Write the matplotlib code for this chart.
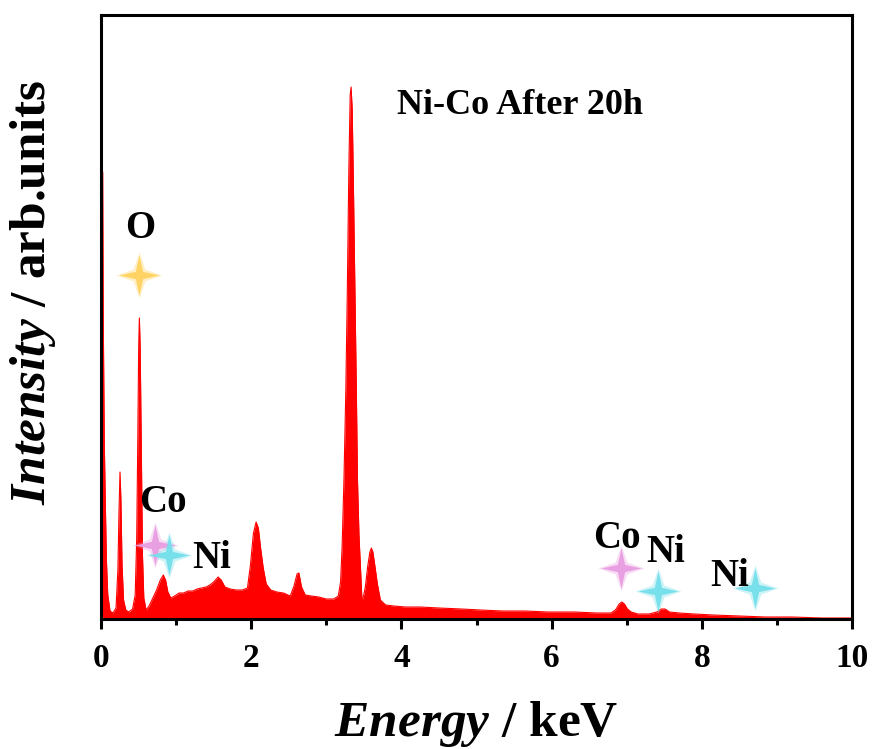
import matplotlib
matplotlib.use("Agg")
import matplotlib.pyplot as plt
from matplotlib.path import Path

# EDS spectrum of the Ni-Co sample after 20 h (energy in keV, intensity in arb. units)
energy_kev = [
    0.000, 0.022, 0.030, 0.044, 0.058, 0.072, 0.090, 0.120, 0.160, 0.200,
    0.225, 0.240, 0.253, 0.265, 0.280, 0.300, 0.330, 0.370, 0.420, 0.455,
    0.475, 0.490, 0.502, 0.511, 0.522, 0.537, 0.552, 0.570, 0.600, 0.640,
    0.690, 0.740, 0.790, 0.830, 0.860, 0.890, 0.930, 0.980, 1.040, 1.100,
    1.160, 1.220, 1.280, 1.340, 1.400, 1.450, 1.500, 1.560, 1.600, 1.650,
    1.720, 1.800, 1.880, 1.950, 1.990, 2.030, 2.065, 2.095, 2.125, 2.160,
    2.200, 2.260, 2.340, 2.430, 2.520, 2.570, 2.610, 2.635, 2.670, 2.720,
    2.800, 2.900, 3.000, 3.100, 3.160, 3.190, 3.210, 3.235, 3.260, 3.280,
    3.300, 3.318, 3.330, 3.345, 3.360, 3.380, 3.400, 3.415, 3.435, 3.455,
    3.475, 3.490, 3.520, 3.550, 3.580, 3.600, 3.620, 3.645, 3.680, 3.720,
    3.790, 3.900, 4.050, 4.250, 4.500, 4.800, 5.050, 5.350, 5.650, 5.950,
    6.300, 6.600, 6.790, 6.850, 6.900, 6.935, 6.970, 7.010, 7.060, 7.150,
    7.300, 7.400, 7.460, 7.510, 7.570, 7.700, 7.900, 8.150, 8.500, 8.850,
    9.200, 9.600, 10.000,
]
intensity = [
    452, 447, 302, 176, 114, 59, 24, 8, 6, 11,
    49, 109, 147, 119, 54, 19, 9, 7, 10, 24,
    79, 179, 274, 301, 269, 169, 64, 21, 9, 13,
    21, 29, 39, 44, 39, 27, 21, 23, 26, 26,
    28, 28, 30, 31, 32, 34, 37, 42, 39, 32,
    30, 29, 29, 31, 54, 86, 97, 91, 71, 51,
    35, 29, 27, 26, 23, 33, 45, 46, 32, 24,
    23, 22, 20, 20, 23, 37, 71, 139, 229, 329,
    449, 524, 532, 509, 439, 334, 229, 139, 84, 51,
    19, 21, 32, 52, 67, 71, 67, 54, 35, 19,
    14, 13, 12, 12, 11, 10, 9, 8, 8, 7,
    7, 6, 6, 9, 15, 17, 15, 10, 7, 5,
    5, 7, 10, 10, 7, 6, 5, 4, 3, 2,
    2, 1, 1,
]

xtick_values = [0, 2, 4, 6, 8, 10]
xtick_labels = ["0", "2", "4", "6", "8", "10"]

# Element markers (four-pointed stars) and their labels
star_elements = ["O", "Co", "Ni", "Co", "Ni", "Ni"]
star_energy = [0.506, 0.719, 0.905, 6.92, 7.42, 8.71]
star_height = [344, 74, 64, 51, 28, 31]

label_text = ["O", "Co", "Ni", "Co", "Ni", "Ni"]
label_energy = [0.52, 0.83, 1.47, 6.87, 7.52, 8.37]
label_height = [390, 116, 61, 81, 67, 42]

element_colors = {"O": "#FFD35F", "Co": "#E99DE2", "Ni": "#74DFEA"}

plt.rcParams["font.family"] = ["Liberation Serif", "DejaVu Serif"]
plt.rcParams["font.weight"] = "bold"
plt.rcParams["mathtext.fontset"] = "custom"
plt.rcParams["mathtext.it"] = "Liberation Serif:italic:bold"
plt.rcParams["mathtext.rm"] = "Liberation Serif:bold"


def star_path(inner=0.2):
    verts = [(0, 1), (inner, inner), (1, 0), (inner, -inner),
             (0, -1), (-inner, -inner), (-1, 0), (-inner, inner), (0, 1)]
    codes = [Path.MOVETO] + [Path.LINETO] * 7 + [Path.CLOSEPOLY]
    return Path(verts, codes)


fig = plt.figure(figsize=(8.75, 7.49), dpi=100)
ax = fig.add_axes([101 / 875, 130 / 749, 751 / 875, 604 / 749])

ax.fill_between(energy_kev, intensity, 0, color="#FF0000", linewidth=0)
ax.plot(energy_kev, intensity, color="#FF0000", linewidth=0.8)

ax.set_xlim(0, 10)
ax.set_ylim(0, 604)

glow = star_path(0.26)
core = star_path(0.18)
for el, e, h in zip(star_elements, star_energy, star_height):
    c = element_colors[el]
    ax.plot(e, h, marker=glow, markersize=33, color=c, alpha=0.35,
            markeredgewidth=0, linestyle="none", zorder=4)
    ax.plot(e, h, marker=core, markersize=29, color=c, alpha=0.95,
            markeredgewidth=0, linestyle="none", zorder=5)

for t, e, h in zip(label_text, label_energy, label_height):
    ax.text(e, h, t, ha="center", va="center", fontsize=28,
            fontweight="bold", color="black", zorder=6)

ax.text(0.558, 0.85, "Ni-Co After 20h", transform=ax.transAxes,
        ha="center", va="center", fontsize=26, fontweight="bold")

ax.set_xticks(xtick_values)
ax.set_xticklabels(xtick_labels, fontsize=24, fontweight="bold")
ax.set_xticks([1, 3, 5, 7, 9], minor=True)
ax.set_yticks([])
ax.tick_params(axis="x", which="major", direction="out", length=7.5,
               width=2.2, pad=10)
ax.tick_params(axis="x", which="minor", direction="out", length=4,
               width=2.2)
for side in ["left", "right", "top", "bottom"]:
    ax.spines[side].set_linewidth(2.2)
    ax.spines[side].set_color("black")

ax.set_xlabel(r"$\mathit{Energy}$ / keV", fontsize=37, fontweight="bold",
              labelpad=18)
ax.set_ylabel(r"$\mathit{Intensity}$ / arb.units", fontsize=37,
              fontweight="bold")
ax.yaxis.set_label_coords(-0.057, 0.541)

fig.savefig("out.png", dpi=100, facecolor="white")
